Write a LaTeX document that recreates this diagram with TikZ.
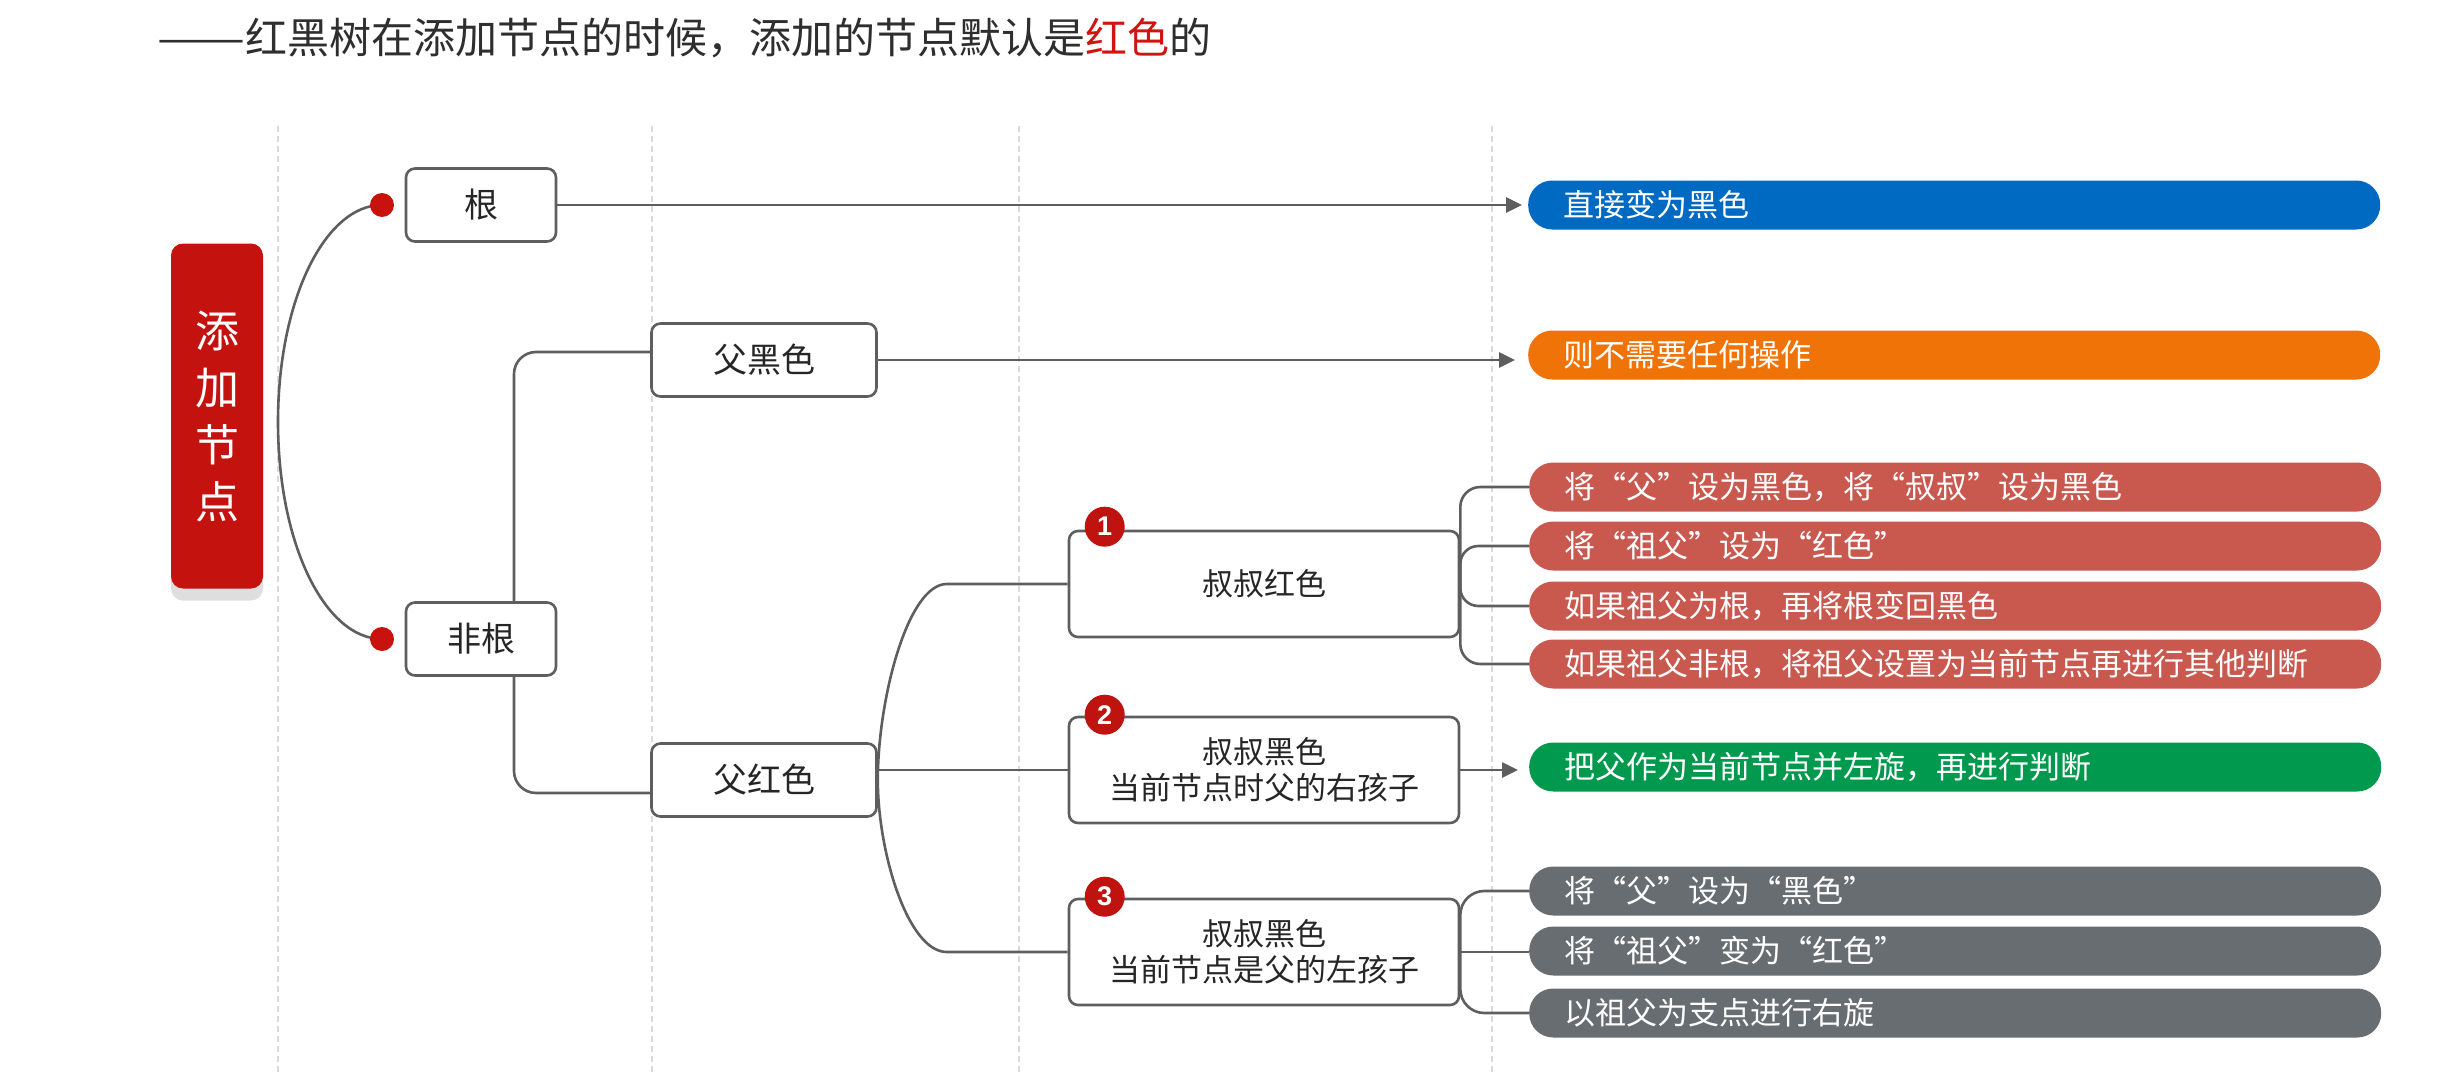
\documentclass[tikz,border=0pt]{standalone}
\usepackage{fontspec}
\setmainfont{Noto Sans CJK SC}
\newfontfamily\digitfont{Liberation Sans}
\usetikzlibrary{arrows.meta,calc,shadows}
\definecolor{linec}{HTML}{5E5E5E}
\definecolor{boxtext}{HTML}{262626}
\definecolor{mainred}{HTML}{C4120F}
\definecolor{dotred}{HTML}{C8120E}
\definecolor{badgered}{HTML}{BE130F}
\definecolor{pblue}{HTML}{006AC3}
\definecolor{porange}{HTML}{F07308}
\definecolor{pred}{HTML}{C9584E}
\definecolor{pgreen}{HTML}{00994D}
\definecolor{pgrey}{HTML}{686D71}
\definecolor{dashc}{HTML}{DADADA}
\definecolor{titlec}{HTML}{2E2E2E}
\definecolor{titlered}{HTML}{D0140F}
\pgfdeclarelayer{bg}
\pgfsetlayers{bg,main}
\begin{document}
\begin{tikzpicture}[x=1pt,y=-1pt,
  conn/.style={draw=linec, line width=2.6pt},
  arr/.style={conn, -{Triangle[length=16pt,width=15pt]}},
  lvlone/.style={draw=linec, line width=2.6pt, fill=white, rounded corners=9pt,
    minimum width=150pt, minimum height=73pt, inner sep=0pt, text=boxtext,
    font=\fontsize{34}{40}\selectfont},
  lvltwo/.style={draw=linec, line width=2.6pt, fill=white, rounded corners=9pt,
    minimum width=390pt, minimum height=106pt, inner sep=0pt, text=boxtext,
    align=center, font=\fontsize{31}{36}\selectfont},
  pill/.style={rectangle, rounded corners=24pt, anchor=west, minimum height=49pt,
    inner xsep=35pt, inner ysep=0pt, text width=782pt, align=left, text=white,
    font=\fontsize{31}{36}\selectfont},
  mainbox/.style={fill=mainred, rounded corners=12pt, minimum width=92pt,
    minimum height=345pt, inner sep=0pt, text=white, align=center,
    font=\fontsize{44}{57}\selectfont,
    drop shadow={shadow xshift=0pt, shadow yshift=-12pt, fill=black, opacity=0.13}},
  dotnode/.style={circle, fill=dotred, minimum size=24pt, inner sep=0pt},
  badge/.style={circle, fill=badgered, minimum size=40pt, inner sep=0pt, text=white,
    font=\digitfont\bfseries\fontsize{27}{27}\selectfont},
  guide/.style={draw=dashc, line width=1.2pt, dash pattern=on 6pt off 4pt}
]
\useasboundingbox (0,0) rectangle (2461,1073);

% title
\node[anchor=west, inner sep=0pt, text=titlec, font=\fontsize{42}{50}\selectfont] (title) at (157,38)
  {\scalebox{1.25}[1]{——}红黑树在添加节点的时候，添加的节点默认是\textcolor{titlered}{红色}的};

% main node
\node[mainbox] (main) at (217,416) {添\\加\\节\\点};

% level one
\node[lvlone] (root) at (481,205) {根};
\node[lvlone] (nonroot) at (481,639) {非根};
\node[dotnode] (d1) at (382,205) {};
\node[dotnode] (d2) at (382,639) {};

% level two
\node[lvlone, minimum width=225pt] (fb) at (764,360) {父黑色};
\node[lvlone, minimum width=225pt] (fr) at (764,780) {父红色};

% level three
\node[lvltwo] (b1) at (1264,584) {叔叔红色};
\node[lvltwo] (b2) at (1264,770) {叔叔黑色\\当前节点时父的右孩子};
\node[lvltwo] (b3) at (1264,952) {叔叔黑色\\当前节点是父的左孩子};
\node[badge] (n1) at ($(b1.north west)+(37,-3)$) {1};
\node[badge] (n2) at ($(b2.north west)+(37,-1)$) {2};
\node[badge] (n3) at ($(b3.north west)+(37,-1)$) {3};

% pills
\node[pill, fill=pblue] (p1) at (1528,205) {直接变为黑色};
\node[pill, fill=porange] (p2) at (1528,355) {则不需要任何操作};
\node[pill, fill=pred] (r1) at (1529,487) {将“父”设为黑色，将“叔叔”设为黑色};
\node[pill, fill=pred] (r2) at (1529,546) {将“祖父”设为“红色”};
\node[pill, fill=pred] (r3) at (1529,606) {如果祖父为根，再将根变回黑色};
\node[pill, fill=pred] (r4) at (1529,664) {如果祖父非根，将祖父设置为当前节点再进行其他判断};
\node[pill, fill=pgreen] (gp) at (1529,767) {把父作为当前节点并左旋，再进行判断};
\node[pill, fill=pgrey] (g1) at (1529,891) {将“父”设为“黑色”};
\node[pill, fill=pgrey] (g2) at (1529,951) {将“祖父”变为“红色”};
\node[pill, fill=pgrey] (g3) at (1529,1013) {以祖父为支点进行右旋};

\begin{pgfonlayer}{bg}
\fill[white] (0,0) rectangle (2461,1073);
\draw[guide] (278,126) -- (278,1073);
\draw[guide] (652,126) -- (652,1073);
\draw[guide] (1019,126) -- (1019,1073);
\draw[guide] (1492,126) -- (1492,1073);

% main -> root / nonroot
\draw[conn] (d1.center) .. controls (325,205) and (278,300) .. (278,422)
  .. controls (278,544) and (325,639) .. (d2.center);

% root -> blue
\draw[arr, shorten >=6pt] (root.east) -- (p1.west);

% nonroot -> fb, fr
\draw[conn, rounded corners=22pt] ($(fb.west)+(0,-8)$) -| ($(nonroot.center)+(33,0)$)
  |- ($(fr.west)+(0,13)$);

% fb -> orange
\draw[arr, shorten >=13pt] (fb.east) -- (fb.east -| p2.west);

% fr -> b1, b2, b3
\draw[conn] (fr.east) .. controls ($(fr.east |- b1.west)+(0,115)$) and ($(fr.east |- b1.west)+(30,0)$)
  .. ($(fr.east |- b1.west)+(69,0)$) -- (b1.west);
\draw[conn] (fr.east |- b2.west) -- (b2.west);
\draw[conn] (fr.east) .. controls ($(fr.east |- b3.west)+(0,-100)$) and ($(fr.east |- b3.west)+(30,0)$)
  .. ($(fr.east |- b3.west)+(69,0)$) -- (b3.west);

% b1 -> red pills
\draw[conn, rounded corners=20pt] (b1.east) |- (r1.west);
\draw[conn, rounded corners=18pt] (b1.east) |- (r2.west);
\draw[conn, rounded corners=18pt] (b1.east) |- (r3.west);
\draw[conn, rounded corners=20pt] (b1.east) |- (r4.west);

% b2 -> green
\draw[arr, shorten >=11pt] (b2.east) -- (b2.east -| gp.west);

% b3 -> grey pills
\draw[conn, rounded corners=24pt] (b3.east) |- (g1.west);
\draw[conn] (b3.east) -- (b3.east -| g2.west);
\draw[conn, rounded corners=24pt] (b3.east) |- (g3.west);
\end{pgfonlayer}
\end{tikzpicture}
\end{document}
